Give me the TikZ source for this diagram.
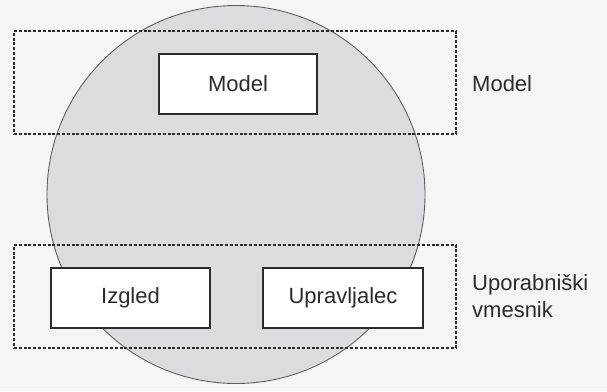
\documentclass[tikz,border=0pt]{standalone}
\usepackage{fontspec}
\setmainfont{Liberation Sans}
\definecolor{bgc}{HTML}{F5F5F5}
\definecolor{circfill}{HTML}{DCDCDF}
\definecolor{circline}{HTML}{5E5E5E}
\definecolor{ink}{HTML}{2B2B2B}
\tikzset{
  layer/.style={draw=ink, line width=1.1pt, dash pattern=on 3pt off 1.8pt, minimum width=442pt, minimum height=103pt, inner sep=0pt},
  compbox/.style={draw=ink, fill=white, line width=1.2pt, minimum height=60pt, inner sep=0pt, text=ink, font=\fontsize{22}{26}\selectfont},
  sidelabel/.style={anchor=west, inner sep=0pt, text=ink, align=left, font=\fontsize{22}{27}\selectfont}
}
\begin{document}
\begin{tikzpicture}[x=1pt, y=-1pt]
\fill[bgc] (0,0) rectangle (607,391);
\useasboundingbox (0,0) rectangle (607,391);
\node[circle, draw=circline, fill=circfill, line width=0.9pt, minimum size=378pt, inner sep=0pt] (circ) at (236,194.5) {};
\node[layer] (toplayer) at (235,82.5) {};
\node[layer] (botlayer) at (235,296.5) {};
\node[compbox, minimum width=158pt] (model) at (238,84) {Model};
\node[compbox, minimum width=159pt] (izgled) at (130.5,298) {Izgled};
\node[compbox, minimum width=160pt] (upr) at (343,298) {Upravljalec};
\node[sidelabel] (modellabel) at (472,84) {Model};
\node[sidelabel] (uilabel) at (472,296.5) {Uporabniški\\vmesnik};
\end{tikzpicture}
\end{document}
